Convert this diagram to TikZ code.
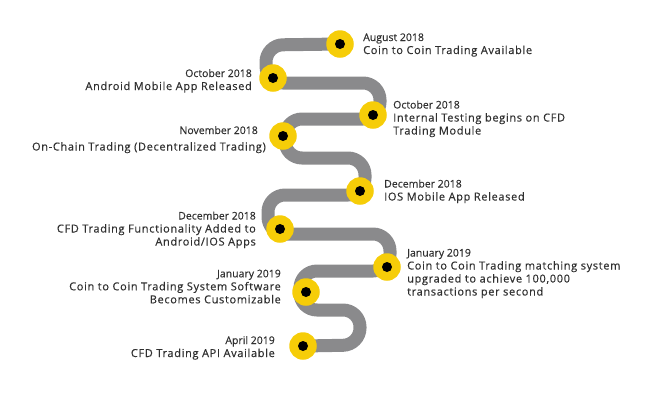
\documentclass[tikz,border=0pt]{standalone}
\usepackage{fontspec}
\usetikzlibrary{backgrounds}
\setmainfont{Open Sans}[FakeBold=0.35]
\newfontfamily\descfamily{Open Sans}[LetterSpace=6,FakeBold=0.45]
\newcommand\datefnt{\fontsize{10.5}{13}\selectfont\rmfamily}
\definecolor{trackgray}{RGB}{138,138,140}
\definecolor{gold}{RGB}{246,205,8}
\definecolor{ink}{RGB}{48,48,48}
\begin{document}
\begin{tikzpicture}[x=1pt,y=-1pt,
  trackline/.style={draw=trackgray, line width=13pt, rounded corners=17pt},
  milestone/.style={circle, fill=gold, minimum size=27.5pt, inner sep=0pt,
    path picture={\fill[black] (path picture bounding box.center) circle (5pt);}},
  lbl/.style={inner sep=0pt, text=ink, font=\descfamily\fontsize{11}{13}\selectfont},
  lblL/.style={lbl, anchor=base west},
  lblR/.style={lbl, anchor=base east},
]
\useasboundingbox (0,0) rectangle (653,400);

% milestones
\node[milestone] (c1) at (340,44) {};
\node[milestone] (c2) at (273,78) {};
\node[milestone] (c3) at (373,115) {};
\node[milestone] (c4) at (283,136) {};
\node[milestone] (c5) at (360,191) {};
\node[milestone] (c6) at (280,229) {};
\node[milestone] (c7) at (387,267) {};
\node[milestone] (c8) at (306,292) {};
\node[milestone] (c9) at (303,346) {};

% track
\begin{scope}[on background layer]
\path[trackline] (c1.center) -- (266,45) -- (266,83) -- (380,83) -- (380,119)
  -- (285,119) -- (285,158) -- (365,158) -- (365,195) -- (268,195) -- (268,234)
  -- (390,234) -- (390,271) -- (300,271) -- (300,310) -- (360,310) -- (360,345)
  -- (c9.center);
\end{scope}

% labels
\node[lblL] (t1) at (363,41) {\begin{tabular}[t]{@{}l@{}}{\datefnt August 2018}\\ Coin to Coin Trading Available\end{tabular}};
\node[lblR] (t2) at (252,77) {\begin{tabular}[t]{@{}r@{}}{\datefnt October 2018}\\ Android Mobile App Released\end{tabular}};
\node[lblL] (t3) at (393,108.5) {\begin{tabular}[t]{@{}l@{}}{\datefnt October 2018}\\ Internal Testing begins on CFD\\ Trading Module\end{tabular}};
\node[lblR] (t4d) at (258,134) {\datefnt November 2018};
\node[lblR] (t4) at (266,150.5) {On-Chain Trading (Decentralized Trading)};
\node[lblL] (t5) at (384,187.5) {\begin{tabular}[t]{@{}l@{}}{\datefnt December 2018}\\ IOS Mobile App Released\end{tabular}};
\node[lblR] (t6) at (256,219.5) {\begin{tabular}[t]{@{}r@{}}{\datefnt December 2018}\\ CFD Trading Functionality Added to\\ Android/IOS Apps\end{tabular}};
\node[lblL] (t7) at (407,256.5) {\begin{tabular}[t]{@{}l@{}}{\datefnt January 2019}\\ Coin to Coin Trading matching system\\ upgraded to achieve 100,000\\ transactions per second\end{tabular}};
\node[lblR] (t8) at (281,277.3) {\begin{tabular}[t]{@{}r@{}}{\datefnt January 2019}\\ Coin to Coin Trading System Software\\ Becomes Customizable\end{tabular}};
\node[lblR] (t9) at (275,344) {\begin{tabular}[t]{@{}r@{}}{\datefnt April 2019}\\ CFD Trading API Available\end{tabular}};
\end{tikzpicture}
\end{document}
